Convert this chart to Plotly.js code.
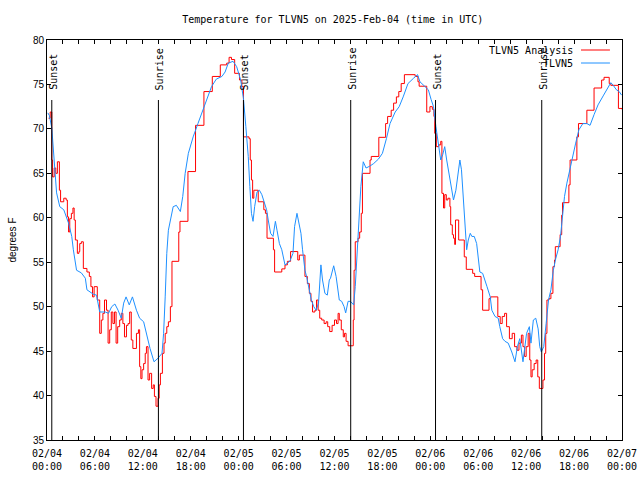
<!DOCTYPE html>
<html>
<head>
<meta charset="utf-8">
<script src="https://cdn.plot.ly/plotly-3.0.1.min.js"></script>
<style>html,body{margin:0;padding:0;background:#fff;}#chart{width:640px;height:480px;}</style>
</head>
<body>
<div id="chart"></div>
<script>
// Hours after 2025-02-04 00:00 UTC
const analysisHours = [0.2,0.4,0.6,0.7,0.9,1.1,1.3,1.55,1.7,2.1,2.4,2.55,2.7,2.85,3.05,3.25,3.4,3.55,3.8,4.0,4.1,4.3,4.55,5.0,5.3,5.5,5.7,5.9,6.3,6.6,6.8,7.0,7.2,7.45,7.65,7.85,8.05,8.25,8.45,8.65,8.85,9.1,9.3,9.5,9.7,9.95,10.15,10.35,10.55,10.75,11.2,11.45,11.6,11.75,11.9,12.1,12.3,12.45,12.65,12.85,13.1,13.3,13.45,13.65,13.9,14.05,14.2,14.45,14.65,14.8,15.0,15.2,15.45,15.65,16.5,16.65,17.65,18.6,19.65,20.7,21.7,22.5,22.8,23.1,23.5,24.1,24.4,24.6,25.3,25.45,25.6,25.75,25.9,26.45,27.15,27.35,27.55,28.35,28.5,29.4,29.8,30.1,30.5,31.4,31.6,32.3,32.6,32.85,33.05,33.25,33.55,33.75,33.95,34.15,34.4,34.7,34.95,35.15,35.4,35.7,36.0,36.25,36.45,36.6,36.85,37.1,37.25,37.45,37.7,38.35,38.45,38.6,38.95,39.15,39.35,39.5,40.45,40.6,41.55,42.4,42.65,43.1,43.4,43.75,44.05,44.35,44.75,46.1,46.45,46.6,47.55,47.95,48.25,48.45,48.55,48.75,49.05,49.3,49.45,49.65,49.8,50.0,50.2,50.45,50.55,50.75,50.9,51.05,51.15,51.55,52.25,52.5,53.3,53.55,54.35,54.55,55.35,55.55,56.45,56.75,57.0,57.3,57.55,57.9,58.25,58.55,58.85,59.1,59.4,59.6,59.8,60.0,60.25,60.45,60.6,60.75,61.0,61.25,61.45,61.65,62.1,62.3,62.45,62.6,62.85,63.1,63.35,63.55,63.65,64.25,64.45,64.55,65.35,65.5,66.35,66.55,67.6,68.5,69.45,69.75,70.4,70.6,71.55,72.0];
const analysisTemps = [71.2,71.9,66.5,64.6,65.6,65.0,66.3,63.1,61.8,62.2,62.0,60.1,58.4,59.9,60.5,61.1,59.75,57.5,56.0,56.2,57.1,57.3,54.3,53.9,53.4,52.25,51.1,52.25,50.75,47.0,48.5,49.25,50.75,49.6,45.9,47.4,49.4,48.1,49.4,45.9,47.75,48.5,49.25,48.1,46.6,47.9,48.1,49.4,46.25,45.3,47.0,47.4,43.25,41.9,42.9,43.6,44.75,45.5,41.75,42.5,40.8,41.2,39.9,38.8,39.7,41.2,42.5,44.75,45.9,47.0,47.75,48.3,50.0,55.1,58.4,59.6,65.2,70.4,74.2,75.9,77.2,77.4,78.05,77.8,76.25,75.5,74.75,69.1,68.9,66.5,64.25,62.2,63.1,61.8,60.9,60.5,57.7,56.4,53.9,54.25,54.7,55.1,56.2,55.25,55.8,53.4,52.6,51.5,50.6,49.4,49.6,50.75,49.6,48.7,48.5,48.1,48.3,47.75,47.2,47.9,48.5,48.1,49.25,48.5,47.4,46.6,47.0,46.1,45.6,48.5,54.1,57.3,57.7,58.4,60.5,65.0,66.5,66.9,69.05,70.6,71.4,72.1,72.9,73.6,74.2,75.1,76.1,75.9,75.3,74.8,71.9,72.5,72.2,71.4,69.5,68.0,68.2,68.6,62.75,61.1,62.6,62.0,62.2,61.25,59.2,58.1,57.7,57.0,59.75,57.5,55.6,54.2,53.75,53.4,51.9,49.6,50.9,51.1,48.9,48.1,48.9,49.25,47.75,46.4,47.0,45.5,45.1,45.9,46.8,45.5,44.4,45.5,47.0,44.0,42.1,42.9,43.6,44.0,42.1,40.8,41.75,44.75,47.0,50.75,50.9,51.5,54.5,55.25,56.75,58.1,60.3,61.7,63.7,66.5,69.1,70.6,72.1,74.6,75.5,75.8,75.1,74.9,72.3,72.2];

const obsHours = [0.1,0.3,0.6,0.8,1.0,1.2,1.6,2.1,2.7,3.1,3.3,3.7,4.3,4.8,5.0,5.4,5.8,6.2,6.6,7.3,7.7,8.1,8.5,8.9,9.3,9.6,9.9,10.3,10.7,11.2,11.6,12.1,12.5,12.9,13.4,13.9,14.4,14.6,14.8,15.0,15.2,15.5,15.8,16.2,16.7,17.0,17.3,17.7,18.3,18.9,19.8,20.6,21.2,21.9,22.3,22.7,23.3,23.75,24.25,24.6,24.9,25.2,25.4,25.6,25.8,26.0,26.3,26.6,26.9,27.2,27.5,27.7,28.0,28.3,28.6,28.8,29.1,29.4,29.6,29.8,30.1,30.4,30.8,31.0,31.3,31.5,31.8,32.0,32.3,32.5,32.7,32.9,33.1,33.4,33.7,34.0,34.2,34.3,34.5,34.8,35.1,35.35,35.5,35.8,35.9,36.2,36.35,36.6,36.9,37.2,37.4,37.7,38.0,38.4,38.6,38.85,39.1,39.3,39.6,39.95,40.4,40.9,41.5,42.0,42.5,42.95,43.6,44.1,44.6,45.2,45.9,46.4,46.7,47.3,47.75,48.1,48.4,48.7,49.0,49.3,49.55,49.8,50.05,50.4,50.7,50.9,51.2,51.5,51.7,51.9,52.1,52.3,52.55,52.75,53.0,53.2,53.5,53.8,54.0,54.2,54.55,54.85,55.1,55.5,55.7,56.1,56.5,56.7,57.05,57.35,57.75,58.2,58.6,58.9,59.2,59.6,59.85,60.05,60.4,60.6,60.9,61.2,61.5,61.7,61.9,62.2,62.5,62.8,63.1,63.4,63.7,64.0,64.3,64.55,64.8,65.1,65.4,65.85,66.2,66.6,67.1,67.6,68.0,68.5,69.0,69.7,70.2,70.6,70.9,71.3,71.65,71.95];
const obsTemps = [71.8,71.5,70.1,67.3,65.0,62.8,61.25,60.9,59.4,57.9,56.4,54.1,53.8,53.2,51.9,51.6,51.4,51.3,49.4,49.4,49.25,50.0,50.3,49.6,48.7,50.4,51.1,50.2,51.1,49.6,48.7,48.3,46.6,45.3,43.8,44.2,44.75,47.0,51.1,56.0,58.6,60.1,61.25,61.4,60.7,62.4,65.0,67.25,69.1,70.6,72.7,74.75,75.6,75.9,76.4,77.4,77.6,77.0,75.5,73.4,70.25,66.9,63.5,60.5,59.6,61.25,62.9,63.1,62.6,61.6,60.9,59.75,58.25,57.9,59.6,58.6,57.1,56.4,55.6,54.7,54.9,55.1,56.0,59.0,60.5,59.4,58.25,56.4,54.1,53.4,52.4,51.7,50.75,50.0,49.6,50.4,52.8,54.7,53.0,51.5,51.3,53.0,53.2,54.5,54.6,53.4,52.25,50.75,50.6,50.0,49.3,50.6,50.6,50.2,52.25,56.5,60.0,63.5,66.3,65.6,65.8,66.1,66.6,67.25,68.9,70.6,71.9,72.5,73.6,75.1,75.7,76.1,75.3,74.75,74.4,73.3,72.5,70.25,68.4,66.5,67.1,68.0,66.5,64.6,63.1,62.0,63.1,65.0,66.5,65.4,62.75,59.75,56.4,57.5,58.25,57.9,57.9,57.1,55.25,53.9,53.75,53.0,52.25,51.1,49.6,48.9,48.7,47.75,46.4,46.1,45.9,44.9,43.8,45.5,46.4,43.8,45.5,47.0,47.75,45.9,48.5,48.7,47.5,45.5,44.9,45.5,48.1,50.75,51.9,54.1,55.4,56.4,57.9,60.1,62.4,63.9,65.2,66.9,68.4,69.9,70.6,70.6,70.4,71.6,72.7,73.8,74.6,75.2,74.9,74.4,74.2,73.8];

const sunHours = [0.6, 13.95, 24.6, 38.03, 48.65, 61.95];
const sunLabels = ['Sunset', 'Sunrise', 'Sunset', 'Sunrise', 'Sunset', 'Sunrise'];

const xTickHours = [0, 6, 12, 18, 24, 30, 36, 42, 48, 54, 60, 66, 72];
const xTickLabels = ['02/04<br>00:00','02/04<br>06:00','02/04<br>12:00','02/04<br>18:00','02/05<br>00:00','02/05<br>06:00','02/05<br>12:00','02/05<br>18:00','02/06<br>00:00','02/06<br>06:00','02/06<br>12:00','02/06<br>18:00','02/07<br>00:00'];
const xMinorTickHours = [2, 4, 8, 10, 14, 16, 20, 22, 26, 28, 32, 34, 38, 40, 44, 46, 50, 52, 56, 58, 62, 64, 68, 70];

const seriesNames = ['TLVN5 Analysis', 'TLVN5'];
const seriesColors = ['#ff0000', '#1e90ff'];

const BASE = Date.UTC(2025, 1, 4, 0, 0, 0);
function toDate(h) {
  return new Date(BASE + h * 3600000).toISOString().replace('T', ' ').slice(0, 19);
}

const mono = 'DejaVu Sans Mono, Liberation Mono, monospace';
const sans = 'Liberation Sans, Arial, sans-serif';

const traces = [
  {x: analysisHours.map(toDate), y: analysisTemps, type: 'scatter', mode: 'lines', name: seriesNames[0],
   line: {color: seriesColors[0], width: 1, shape: 'hv'}},
  {x: obsHours.map(toDate), y: obsTemps, type: 'scatter', mode: 'lines', name: seriesNames[1],
   line: {color: seriesColors[1], width: 1}}
];

const shapes = [];
const annotations = [];
sunHours.forEach((h, i) => {
  shapes.push({type: 'line', xref: 'x', yref: 'paper', x0: toDate(h), x1: toDate(h), y0: 0, y1: 0.85,
    line: {color: '#000', width: 1}});
  annotations.push({xref: 'x', yref: 'paper', x: toDate(h), y: 0.87, text: sunLabels[i], showarrow: false,
    textangle: -90, xanchor: 'center', yanchor: 'bottom', xshift: 1,
    font: {family: mono, size: 10, color: '#000'}});
});
// gnuplot-style legend: text on the left, sample on the right
const legendY = [0.975, 0.9425];
seriesNames.forEach((n, i) => {
  annotations.push({xref: 'paper', yref: 'paper', x: 0.918, y: legendY[i], text: n, showarrow: false,
    xanchor: 'right', yanchor: 'middle', font: {family: mono, size: 10, color: '#000'}});
  shapes.push({type: 'line', xref: 'paper', yref: 'paper', x0: 0.9287, x1: 0.979, y0: legendY[i], y1: legendY[i],
    line: {color: seriesColors[i], width: 1}});
});

const layout = {
  width: 640, height: 480,
  margin: {l: 47, r: 18, t: 40, b: 40},
  paper_bgcolor: '#fff', plot_bgcolor: '#fff',
  showlegend: false,
  title: {text: 'Temperature for TLVN5 on 2025-Feb-04 (time in UTC)', font: {family: mono, size: 10, color: '#000'},
    x: 0.52, xanchor: 'center', y: 0.96, yanchor: 'middle'},
  xaxis: {
    type: 'date', range: [toDate(0), toDate(72)],
    tickmode: 'array', tickvals: xTickHours.map(toDate), ticktext: xTickLabels,
    ticks: 'inside', ticklen: 4, tickcolor: '#000', tickwidth: 1,
    ticklabelstandoff: 4,
    minor: {tickmode: 'array', tickvals: xMinorTickHours.map(toDate), ticks: 'inside', ticklen: 4,
      tickcolor: '#000', tickwidth: 1, showgrid: false},
    showline: true, linecolor: '#000', linewidth: 1, mirror: 'allticks',
    showgrid: false, zeroline: false,
    tickfont: {family: mono, size: 10, color: '#000'}
  },
  yaxis: {
    range: [35, 80], dtick: 5, tick0: 35,
    ticks: 'inside', ticklen: 4, tickcolor: '#000', tickwidth: 1,
    showline: true, linecolor: '#000', linewidth: 1, mirror: 'allticks',
    showgrid: false, zeroline: false,
    tickfont: {family: sans, size: 10, color: '#000'},
    title: {text: 'degrees F', font: {family: sans, size: 10, color: '#000'}, standoff: 14}
  },
  shapes: shapes,
  annotations: annotations
};

Plotly.newPlot('chart', traces, layout, {displayModeBar: false, staticPlot: true});
</script>
</body>
</html>
